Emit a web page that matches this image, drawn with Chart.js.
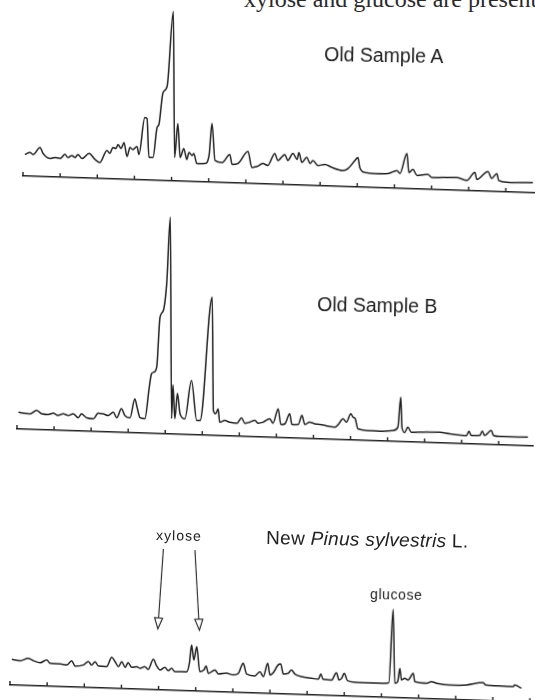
<!DOCTYPE html>
<html>
<head>
<meta charset="utf-8">
<script src="https://cdn.jsdelivr.net/npm/chart.js@4.4.1/dist/chart.umd.min.js"></script>
<style>
  html, body { margin: 0; padding: 0; background: #fff; }
  body { width: 535px; height: 700px; position: relative; overflow: hidden; }
  canvas.trace { position: absolute; }
  .lbl {
    position: absolute; white-space: nowrap; line-height: 1; color: #222;
    font-family: "Liberation Sans", Arial, sans-serif;
    transform-origin: 0 100%; transform: rotate(1deg);
  }
  .caption {
    position: absolute; left: 244px; top: -12.6px; white-space: nowrap;
    font-family: "Liberation Serif", "Times New Roman", serif; font-size: 24px;
    line-height: 1; color: #2a2a2a;
  }
</style>
</head>
<body>
<div class="caption">xylose and glucose are present</div>

<canvas id="chartA" class="trace"></canvas>
<canvas id="chartB" class="trace"></canvas>
<canvas id="chartC" class="trace"></canvas>

<div class="lbl" style="left:324px; top:44.5px; font-size:19.5px;">Old Sample A</div>
<div class="lbl" style="left:317px; top:295px; font-size:19.5px;">Old Sample B</div>
<div class="lbl" style="left:266px; top:528px; font-size:19px; letter-spacing:0.3px;">New <i>Pinus sylvestris</i> L.</div>
<div class="lbl" style="left:156px; top:527.5px; font-size:14px; letter-spacing:1px;">xylose</div>
<div class="lbl" style="left:370px; top:586.5px; font-size:14px; letter-spacing:0.6px;">glucose</div>

<script>
// retention time (tick units) and detector response
const timeA = [0.05,0.19,0.27,0.46,0.54,0.73,0.86,1.00,1.13,1.21,1.32,1.40,1.48,1.59,1.78,1.94,2.07,2.26,2.34,2.42,
  2.50,2.56,2.64,2.72,2.80,2.88,2.96,3.07,3.12,3.28,3.34,3.39,3.50,3.61,3.66,3.77,3.88,4.05,4.08,4.17,
  4.23,4.33,4.41,4.47,4.55,4.60,4.68,4.90,5.01,5.09,5.17,5.36,5.57,5.63,5.79,6.06,6.16,6.30,6.46,6.59,
  6.78,6.86,7.05,7.13,7.27,7.38,7.43,7.51,7.64,7.73,7.81,7.94,8.13,8.32,8.61,8.75,8.94,9.02,9.07,9.21,
  9.48,9.83,10.07,10.15,10.34,10.39,10.50,10.61,10.90,11.01,11.31,11.68,11.95,12.17,12.22,12.52,12.62,12.76,12.81,13.11,13.73];
const signalA = [21.6,23.7,21.8,29.1,23.2,18.4,19.6,18.7,22.9,20.0,22.1,20.2,23.3,19.4,24.7,18.9,16.0,28.3,25.4,31.5,
  30.6,34.6,30.7,36.8,22.9,32.0,30.1,33.3,25.3,62.5,61.6,22.7,22.8,52.9,56.0,88.1,94.3,169.5,23.5,57.6,
  23.7,32.8,21.9,29.0,26.1,28.1,18.2,18.5,26.6,58.7,21.8,20.1,28.3,18.4,19.6,32.0,16.1,17.2,20.4,18.6,
  30.8,23.9,30.1,24.2,31.4,25.5,32.6,22.7,27.9,22.0,25.1,20.2,21.5,18.7,16.1,18.2,26.5,29.6,19.6,14.8,
  14.1,14.5,17.8,14.9,35.2,16.2,19.4,13.5,14.9,12.0,12.4,12.8,10.2,18.4,11.5,19.8,13.0,18.1,11.2,9.6,10.3];

const timeB = [0.04,0.17,0.35,0.53,0.67,0.84,0.98,1.11,1.25,1.38,1.52,1.65,1.74,1.88,2.06,2.19,2.33,2.46,2.60,2.69,
  2.82,2.91,3.05,3.18,3.24,3.32,3.45,3.57,3.63,3.69,3.77,3.86,3.95,4.04,4.14,4.17,4.21,4.26,4.33,4.40,
  4.53,4.71,4.85,4.94,5.27,5.30,5.36,5.43,5.47,5.61,5.74,5.94,6.06,6.15,6.28,6.42,6.51,6.64,6.82,6.91,
  7.05,7.12,7.23,7.36,7.42,7.59,7.69,7.77,7.90,8.04,8.17,8.31,8.44,8.58,8.67,8.80,8.89,9.01,9.07,9.13,
  9.20,9.47,9.84,10.15,10.28,10.36,10.39,10.46,10.55,10.64,10.91,11.41,11.68,12.13,12.20,12.26,12.49,12.56,12.62,12.80,
  12.86,13.03,13.79];
const signalB = [16.8,16.0,15.6,19.2,16.0,15.5,17.0,14.9,16.7,15.2,17.1,13.2,17.3,13.5,12.7,18.5,18.0,16.5,20.0,14.5,
  23.7,17.1,14.9,34.1,25.8,15.3,14.4,46.2,59.7,61.3,66.4,116.5,123.3,150.1,216.9,15.6,49.3,15.4,41.1,20.6,
  15.7,54.3,14.4,14.5,138.2,24.9,21.8,26.8,13.5,15.4,13.8,13.1,18.6,13.3,14.5,16.4,13.8,14.9,18.5,14.3,
  28.8,13.2,14.0,24.2,13.6,13.8,22.9,14.0,16.5,15.0,14.5,13.7,12.8,12.3,15.1,21.0,17.7,26.2,22.9,21.4,
  11.5,10.1,9.8,10.9,14.4,44.5,14.5,9.3,14.7,9.8,10.2,10.8,9.5,8.3,12.7,8.5,8.8,13.2,8.9,14.2,
  9.2,8.4,8.7];

const timeC = [0.05,0.27,0.49,0.63,0.81,0.99,1.08,1.35,1.53,1.66,1.75,1.97,2.11,2.20,2.29,2.38,2.60,2.74,2.83,2.92,
  3.01,3.10,3.18,3.28,3.41,3.50,3.63,3.72,3.86,3.95,4.04,4.17,4.26,4.35,4.44,4.58,4.76,4.83,4.89,4.95,
  5.03,5.11,5.22,5.28,5.34,5.52,5.61,5.83,6.01,6.15,6.28,6.37,6.59,6.73,6.82,6.94,7.00,7.09,7.22,7.29,
  7.36,7.49,7.58,7.67,7.85,8.12,8.30,8.37,8.43,8.66,8.79,8.86,8.93,9.00,9.09,9.47,9.91,10.20,10.32,10.36,
  10.44,10.50,10.54,10.63,10.72,10.86,10.90,11.22,11.35,11.49,11.84,12.29,12.74,12.81,13.19,13.55,13.59,13.77];
const signalC = [25.8,24.6,27.3,25.1,23.3,26.2,23.0,22.7,21.9,26.3,21.1,22.4,25.9,22.7,26.1,21.9,21.5,31.1,26.8,21.9,
  27.0,21.5,26.2,21.7,22.5,21.0,22.8,20.3,30.4,23.8,20.0,22.8,19.5,22.0,18.7,18.9,19.1,27.6,46.0,31.1,
  44.5,19.6,21.4,25.5,18.2,21.8,17.9,18.9,17.4,19.2,29.4,18.8,17.1,21.6,16.7,30.2,18.6,21.0,28.9,29.9,
  20.0,20.9,24.3,20.4,17.9,16.7,15.9,21.3,16.0,15.6,23.1,15.9,17.6,22.7,15.4,13.9,13.9,14.8,88.3,14.4,
  16.1,29.6,17.9,19.7,18.1,25.0,16.7,15.5,17.2,15.8,14.5,15.1,17.9,15.7,15.2,14.9,16.7,13.6];

// time axis length of each recorder strip, one tick per unit
const axisEnd = [13.78, 13.92, 14.13];
const tickStep = 1;

// xylose arrows in chart C: start / tip (time, response)
const xyloseFrom = [4.13, 4.98];
const xyloseTo   = [3.98, 5.10];
const xyloseTopLevel = 141;
const xyloseTipLevel = 61;

const INK  = '#222';
const PAD  = 4;
const TILT = 1.89;   // the scanned page is slanted

const upTicks = {
  id: 'upTicks',
  afterDatasetsDraw(chart) {
    const sx = chart.scales.x, ctx = chart.ctx;
    const base = chart.chartArea.bottom;
    ctx.save();
    ctx.strokeStyle = INK;
    ctx.lineWidth = 1.4;
    sx.ticks.forEach(tk => {
      const px = sx.getPixelForValue(tk.value);
      ctx.beginPath();
      ctx.moveTo(px, base);
      ctx.lineTo(px, base - 4);
      ctx.stroke();
    });
    ctx.restore();
  }
};

const xyloseArrows = {
  id: 'xyloseArrows',
  afterDatasetsDraw(chart) {
    const { x, y } = chart.scales, ctx = chart.ctx;
    ctx.save();
    ctx.strokeStyle = INK;
    ctx.fillStyle = '#fff';
    ctx.lineWidth = 1.1;
    xyloseFrom.forEach((t0, i) => {
      const x0 = x.getPixelForValue(t0), y0 = y.getPixelForValue(xyloseTopLevel);
      const x1 = x.getPixelForValue(xyloseTo[i]), y1 = y.getPixelForValue(xyloseTipLevel);
      const a = Math.atan2(y1 - y0, x1 - x0);
      const len = 11, half = 4;
      const bx = x1 - len * Math.cos(a), by = y1 - len * Math.sin(a);
      ctx.beginPath(); ctx.moveTo(x0, y0); ctx.lineTo(bx, by); ctx.stroke();
      ctx.beginPath();
      ctx.moveTo(x1, y1);
      ctx.lineTo(bx + half * Math.sin(a), by - half * Math.cos(a));
      ctx.lineTo(bx - half * Math.sin(a), by + half * Math.cos(a));
      ctx.closePath();
      ctx.fill();
      ctx.stroke();
    });
    ctx.restore();
  }
};

function drawTrace(id, frame, times, signal, tMax, extra) {
  const cv = document.getElementById(id);
  const w = Math.round(tMax * frame.unit);
  cv.width = w + PAD * 2;
  cv.height = frame.height + PAD * 2;
  cv.style.left = (frame.left - PAD) + 'px';
  cv.style.top = (frame.base - frame.height - PAD) + 'px';
  cv.style.transformOrigin = PAD + 'px ' + (frame.height + PAD) + 'px';
  cv.style.transform = 'skewY(' + TILT + 'deg)';

  return new Chart(cv.getContext('2d'), {
    type: 'line',
    data: {
      datasets: [{
        data: times.map((t, i) => ({ x: t, y: signal[i] })),
        borderColor: INK,
        borderWidth: 1.5,
        pointRadius: 0,
        cubicInterpolationMode: 'monotone',
        fill: false,
        clip: false
      }]
    },
    options: {
      responsive: false,
      animation: false,
      events: [],
      layout: { padding: PAD },
      plugins: { legend: { display: false }, tooltip: { enabled: false } },
      scales: {
        x: {
          type: 'linear', min: 0, max: tMax,
          ticks: { display: false, stepSize: tickStep, includeBounds: false },
          grid: { display: false, drawTicks: false, tickLength: 0 },
          border: { display: true, color: INK, width: 1.4 }
        },
        y: { display: false, min: 0, max: frame.height }
      }
    },
    plugins: [upTicks].concat(extra || [])
  });
}

drawTrace('chartA', { left: 23, base: 175.5, unit: 37.15, height: 175 }, timeA, signalA, axisEnd[0]);
drawTrace('chartB', { left: 17, base: 428.5, unit: 37.08, height: 222 }, timeB, signalB, axisEnd[1]);
drawTrace('chartC', { left: 10, base: 685,   unit: 37.15, height: 150 }, timeC, signalC, axisEnd[2], [xyloseArrows]);
</script>
</body>
</html>
